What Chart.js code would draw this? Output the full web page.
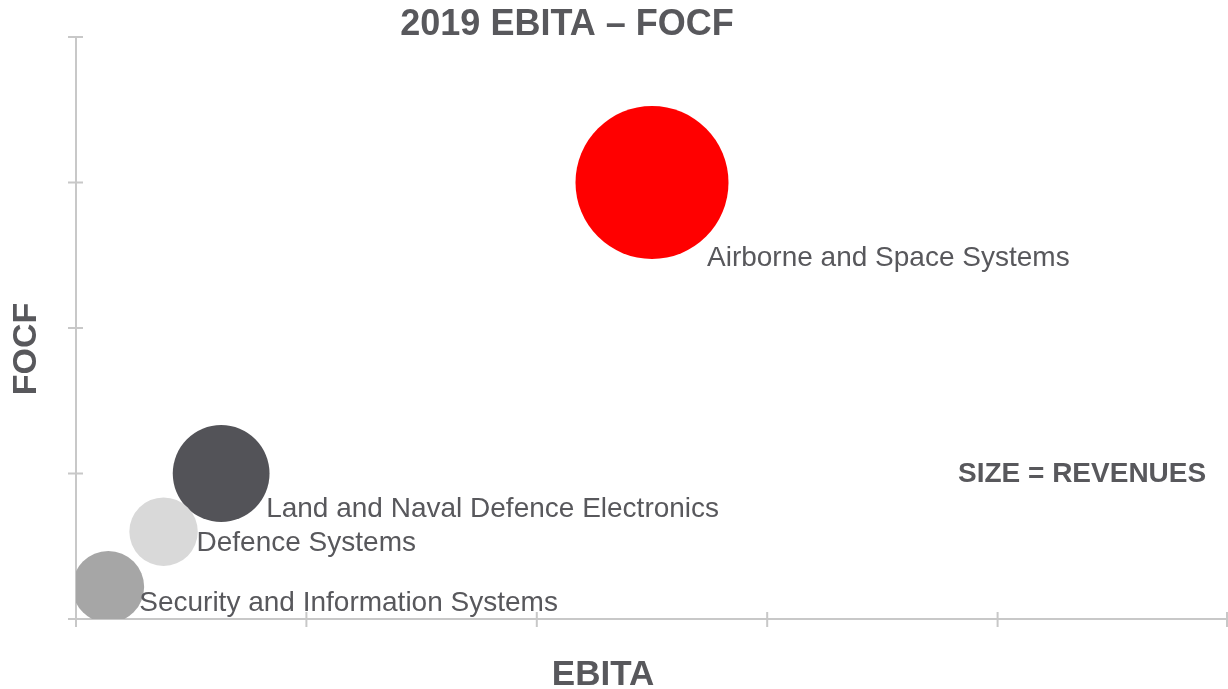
<!DOCTYPE html>
<html>
<head>
<meta charset="utf-8">
<script src="https://cdn.jsdelivr.net/npm/chart.js@4/dist/chart.umd.min.js"></script>
<style>
  html, body { margin: 0; padding: 0; background: #fff; }
  #wrap { width: 1228px; height: 689px; position: relative; }
</style>
</head>
<body>
<div id="wrap"><canvas id="chart"></canvas></div>
<script>
const chartTitle = "2019 EBITA \u2013 FOCF";
const sizeNote = "SIZE = REVENUES";
const xTitle = "EBITA";
const yTitle = "FOCF";

const segments = [
  "Airborne and Space Systems",
  "Land and Naval Defence Electronics",
  "Defence Systems",
  "Security and Information Systems",
];
const ebita = [250, 63, 38, 14];
const focf = [300, 100, 60, 22];
const revenues = [2000, 800, 400, 440];

const xMax = 500;
const xStep = 100;
const yMax = 400;
const yStep = 100;

const bubbleColors = ["#ff0000", "#535358", "#d9d9d9", "#a6a6a6"];
const textColor = "#58585c";
const axisColor = "#c8c8c8";
const fontFamily = "'Liberation Sans', Arial, sans-serif";
const bubbleScale = 76.5 / Math.sqrt(2000);

// label offset from bubble centre, px
const labelOffsets = [
  [55, 76],
  [45, 36],
  [33, 12],
  [31, 16],
];

const points = segments.map((name, i) => ({
  x: ebita[i],
  y: focf[i],
  r: bubbleScale * Math.sqrt(revenues[i]),
}));

const crossTicks = {
  id: "crossTicks",
  afterDraw(chart) {
    const { ctx, scales } = chart;
    const x = scales.x;
    const y = scales.y;
    ctx.save();
    ctx.strokeStyle = axisColor;
    ctx.lineWidth = 2;
    ctx.beginPath();
    for (const t of x.ticks) {
      const px = Math.min(x.getPixelForValue(t.value), chart.width - 1);
      ctx.moveTo(px, y.bottom - 7);
      ctx.lineTo(px, y.bottom + 8);
    }
    for (const t of y.ticks) {
      const py = Math.max(y.getPixelForValue(t.value), 1);
      ctx.moveTo(x.left - 8, py);
      ctx.lineTo(x.left + 7, py);
    }
    ctx.stroke();
    ctx.restore();
  },
};

const bubbleLabels = {
  id: "bubbleLabels",
  afterDatasetsDraw(chart) {
    const { ctx } = chart;
    const meta = chart.getDatasetMeta(0);
    ctx.save();
    ctx.fillStyle = textColor;
    ctx.font = `28px ${fontFamily}`;
    ctx.textAlign = "left";
    ctx.textBaseline = "middle";
    meta.data.forEach((el, i) => {
      const [dx, dy] = labelOffsets[i];
      ctx.fillText(segments[i], el.x + dx, el.y + dy);
    });
    ctx.restore();
  },
};

const extraText = {
  id: "extraText",
  afterDraw(chart) {
    const { ctx } = chart;
    ctx.save();
    ctx.fillStyle = textColor;
    ctx.textBaseline = "middle";
    ctx.font = `bold 36px ${fontFamily}`;
    ctx.textAlign = "center";
    ctx.fillText(chartTitle, 567, 25);
    ctx.font = `bold 35px ${fontFamily}`;
    ctx.fillText(xTitle, 603, 675);
    ctx.save();
    ctx.translate(27, 349);
    ctx.rotate(-Math.PI / 2);
    ctx.font = `bold 34px ${fontFamily}`;
    ctx.fillText(yTitle, 0, 0);
    ctx.restore();
    ctx.font = `bold 28px ${fontFamily}`;
    ctx.textAlign = "left";
    ctx.fillText(sizeNote, 958, 474);
    ctx.restore();
  },
};

new Chart(document.getElementById("chart"), {
  type: "bubble",
  data: {
    datasets: [
      {
        label: "Segments",
        data: points,
        backgroundColor: bubbleColors,
        borderWidth: 0,
        hoverBorderWidth: 0,
        clip: 0,
      },
    ],
  },
  options: {
    responsive: true,
    maintainAspectRatio: false,
    animation: false,
    events: [],
    layout: {
      autoPadding: false,
      padding: { top: 37, right: 0, left: 0, bottom: 0 },
    },
    plugins: {
      legend: { display: false },
      tooltip: { enabled: false },
    },
    scales: {
      x: {
        type: "linear",
        min: 0,
        max: xMax,
        ticks: { display: false, stepSize: xStep },
        grid: { display: false },
        border: { display: true, color: axisColor, width: 2 },
        afterFit(scale) {
          scale.height = 70;
        },
      },
      y: {
        type: "linear",
        min: 0,
        max: yMax,
        ticks: { display: false, stepSize: yStep },
        grid: { display: false },
        border: { display: true, color: axisColor, width: 2 },
        afterFit(scale) {
          scale.width = 76;
        },
      },
    },
  },
  plugins: [crossTicks, bubbleLabels, extraText],
});
</script>
</body>
</html>
